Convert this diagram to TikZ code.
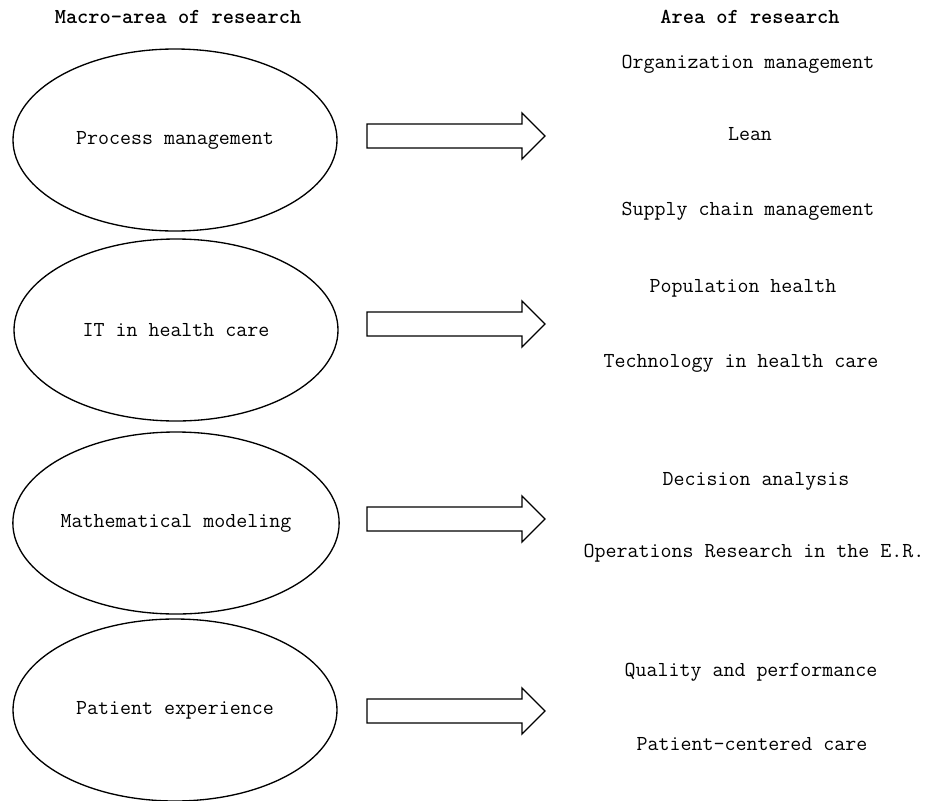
\documentclass[tikz,border=0pt]{standalone}
\usepackage{fontspec}
\usetikzlibrary{positioning,shapes.geometric}
\tikzset{
	macromap/.style={x=0.75pt,y=-0.75pt,line width=1pt,
		every node/.style={font=\ttfamily\fontsize{16}{18}\selectfont}},
	macro/.style={ellipse,draw,inner sep=0pt,minimum width=243pt,minimum height=136.5pt},
	heading/.style={font=\ttfamily\bfseries\fontsize{16}{18}\selectfont},
	area/.style={inner sep=1pt},
	blockarrow/.style={draw,fill=white,line join=miter}
}

\begin{document}
\begin{tikzpicture}[macromap]
	\useasboundingbox (0,0) rectangle (928,800);
	
	\node[heading] (hmacro) at (178,17) {Macro-area of research};
	\node[heading] (harea) at (750,17) {Area of research};
	
	\node[macro] (proc) at (175,140) {Process management};
	\node[macro] (it) at (176,330) {IT in health care};
	\node[macro] (math) at (176,523) {Mathematical modeling};
	\node[macro] (pat) at (175,710) {Patient experience};
	
	\foreach \y in {136,324,519,711}
		\draw[blockarrow] (367,\y-12) -- (522,\y-12) -- (522,\y-23) -- (545,\y)
			-- (522,\y+23) -- (522,\y+12) -- (367,\y+12) -- cycle;
	
	\node[area] (org) at (748,64) {Organization management};
	\node[area] (lean) at (750,134) {Lean};
	\node[area] (supply) at (748,211) {Supply chain management};
	\node[area] (pop) at (743,288) {Population health};
	\node[area] (tech) at (741,363) {Technology in health care};
	\node[area] (dec) at (756,481) {Decision analysis};
	\node[area] (oper) at (754,553) {Operations Research in the E.R.};
	\node[area] (qual) at (751,672) {Quality and performance};
	\node[area] (pcc) at (752,744) {Patient-centered care};
	
\end{tikzpicture}
\end{document}
